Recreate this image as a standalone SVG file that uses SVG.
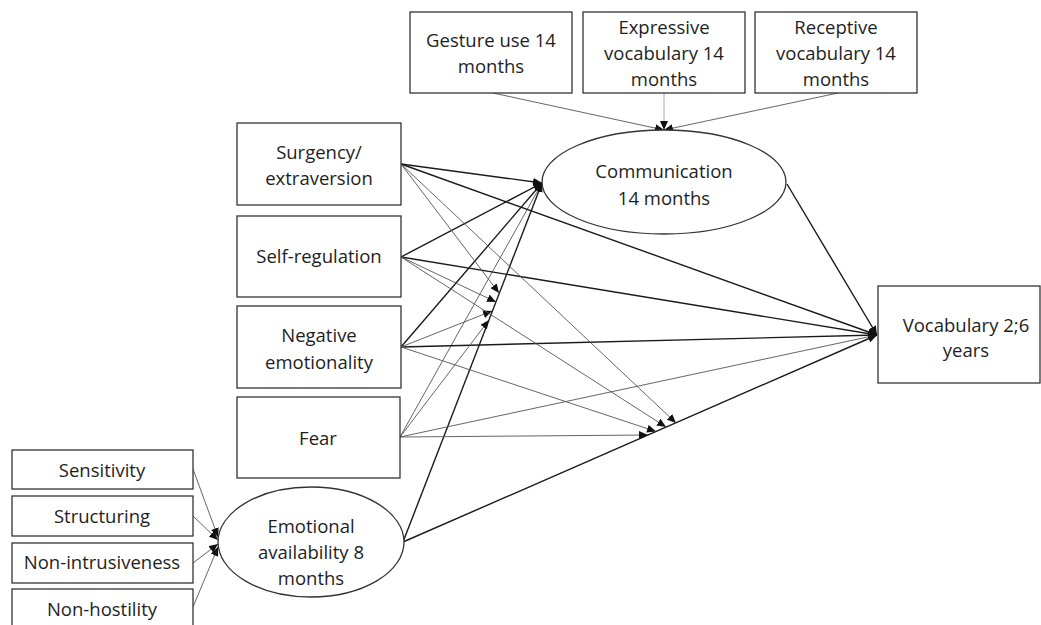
<svg xmlns="http://www.w3.org/2000/svg" width="1041" height="625" viewBox="0 0 1041 625">
<style>
  .box{fill:#fff;stroke:#333;stroke-width:1.3}
  .ell{fill:#fff;stroke:#333;stroke-width:1.3}
  text{font-family:"Open Sans","Liberation Sans",sans-serif;font-size:18.5px;fill:#1e1e1e;text-anchor:middle}
  .thick{stroke:#1a1a1a;stroke-width:1.4;fill:none;marker-end:url(#ah)}
  .thin{stroke:#555;stroke-width:0.9;fill:none;marker-end:url(#ah)}
  .light{stroke:#aaa;stroke-width:1;fill:none;marker-end:url(#ah)}
</style>
<defs>
  <marker id="ah" markerUnits="userSpaceOnUse" markerWidth="9" markerHeight="8" refX="9" refY="4" orient="auto">
    <path d="M0,0 L9,4 L0,8 z" fill="#111"/>
  </marker>
</defs>
<rect width="1041" height="625" fill="#fff"/>

<g id="connectors">
  <!-- indicators to Communication -->
  <line class="thin" x1="493" y1="93" x2="664" y2="130"/>
  <line class="light" x1="664" y1="93" x2="664" y2="130"/>
  <line class="thin" x1="838" y1="93" x2="664" y2="130"/>
  <!-- EA indicators -->
  <line class="thin" x1="193" y1="469" x2="218" y2="537"/>
  <line class="thin" x1="193" y1="516" x2="218" y2="540"/>
  <line class="thin" x1="193" y1="563" x2="218" y2="544"/>
  <line class="thin" x1="193" y1="607" x2="218" y2="547"/>
  <!-- main paths -->
  <line class="thick" x1="401" y1="164" x2="542" y2="183"/>
  <line class="thick" x1="401" y1="257" x2="542" y2="183"/>
  <line class="thick" x1="401" y1="347" x2="542" y2="183"/>
  <line class="thin" x1="400" y1="437" x2="542" y2="183"/>
  <line class="thick" x1="403" y1="542" x2="542" y2="183"/>
  <line class="thick" x1="401" y1="164" x2="877" y2="335"/>
  <line class="thick" x1="401" y1="257" x2="877" y2="335"/>
  <line class="thick" x1="401" y1="347" x2="877" y2="335"/>
  <line class="thin" x1="400" y1="437" x2="877" y2="335"/>
  <line class="thick" x1="403" y1="542" x2="877" y2="335"/>
  <line class="thick" x1="787" y1="184" x2="877" y2="335"/>
  <!-- interactions on EA -> Communication -->
  <line class="thin" x1="401" y1="164" x2="499" y2="293"/>
  <line class="thin" x1="401" y1="257" x2="496" y2="302"/>
  <line class="thin" x1="401" y1="347" x2="492" y2="311"/>
  <line class="thin" x1="400" y1="437" x2="489" y2="320"/>
  <!-- interactions on EA -> Vocabulary -->
  <line class="thin" x1="401" y1="164" x2="676" y2="423"/>
  <line class="thin" x1="401" y1="257" x2="666" y2="427"/>
  <line class="thin" x1="401" y1="347" x2="656" y2="431.5"/>
  <line class="thin" x1="400" y1="437" x2="648" y2="435"/>
</g>

<g id="gesture"><rect class="box" x="410" y="12" width="162" height="81"/><text x="491" y="47">Gesture use 14</text><text x="491" y="73">months</text></g>
<g id="expressive"><rect class="box" x="583" y="12" width="162" height="81"/><text x="664" y="34">Expressive</text><text x="664" y="60">vocabulary 14</text><text x="664" y="86">months</text></g>
<g id="receptive"><rect class="box" x="755" y="12" width="162" height="81"/><text x="836" y="34">Receptive</text><text x="836" y="60">vocabulary 14</text><text x="836" y="86">months</text></g>

<g id="communication"><ellipse class="ell" cx="664" cy="182" rx="122" ry="52"/><text x="664" y="178">Communication</text><text x="664" y="205">14 months</text></g>

<g id="surgency"><rect class="box" x="237" y="123" width="164" height="82"/><text x="319" y="159">Surgency/</text><text x="319" y="185">extraversion</text></g>
<g id="selfreg"><rect class="box" x="237" y="216" width="164" height="81"/><text x="319" y="263">Self-regulation</text></g>
<g id="negemo"><rect class="box" x="237" y="306" width="164" height="82"/><text x="319" y="342">Negative</text><text x="319" y="369">emotionality</text></g>
<g id="fear"><rect class="box" x="237" y="397" width="163" height="81"/><text x="318" y="445">Fear</text></g>

<g id="vocab"><rect class="box" x="878" y="286" width="162" height="97"/><text x="966" y="332">Vocabulary 2;6</text><text x="966" y="357">years</text></g>

<g id="ea"><ellipse class="ell" cx="311" cy="542" rx="93" ry="55"/><text x="311" y="533">Emotional</text><text x="311" y="559">availability 8</text><text x="311" y="585">months</text></g>

<g id="sensitivity"><rect class="box" x="12" y="450" width="181" height="39"/><text x="102" y="477">Sensitivity</text></g>
<g id="structuring"><rect class="box" x="12" y="496" width="181" height="40"/><text x="102" y="523">Structuring</text></g>
<g id="nonintrusive"><rect class="box" x="12" y="543" width="181" height="40"/><text x="102" y="569">Non-intrusiveness</text></g>
<g id="nonhostility"><rect class="box" x="12" y="589" width="181" height="50"/><text x="102" y="616">Non-hostility</text></g>
</svg>
